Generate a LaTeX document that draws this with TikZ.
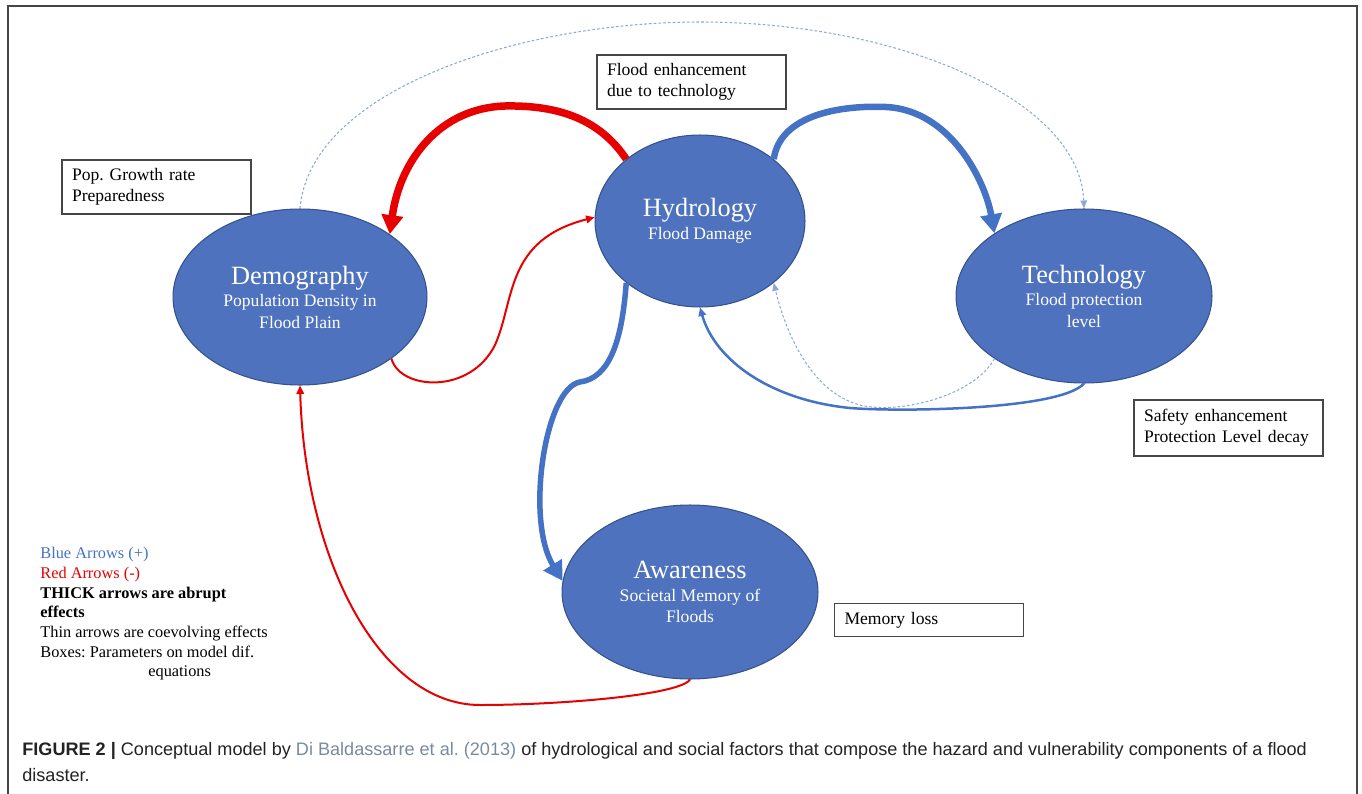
\documentclass[tikz,border=0pt]{standalone}
\usepackage{fontspec}
\setmainfont{Liberation Serif}
\newfontfamily\capfont{Liberation Sans}
\usetikzlibrary{arrows.meta,shapes.geometric}

\definecolor{ellfill}{RGB}{79,114,190}
\definecolor{elledge}{RGB}{52,82,140}
\definecolor{plusblue}{RGB}{68,114,196}
\definecolor{minusred}{RGB}{230,0,0}
\definecolor{faintblue}{RGB}{140,168,218}
\definecolor{boxgrey}{RGB}{70,70,70}
\definecolor{linkgrey}{RGB}{120,138,162}
\definecolor{captext}{RGB}{35,35,35}

\newcommand{\elltitle}{\fontsize{15}{17}\selectfont}
\newcommand{\ellsub}{\fontsize{10}{13.4}\selectfont}
\newcommand{\boxtext}{\fontsize{10}{12}\selectfont}
\newcommand{\legendtext}{\fontsize{9.3}{11.2}\selectfont}

\begin{document}
\frenchspacing
\begin{tikzpicture}[x=0.02cm, y=-0.02cm,
    bubble/.style={ellipse, draw=elledge, line width=0.6pt, fill=ellfill, text=white, align=center, inner sep=0pt},
    parambox/.style={rectangle, draw=boxgrey, line width=0.7pt, fill=white, align=left, inner xsep=0.2cm, text width=3.38cm, font=\boxtext},
    abrupt/.style={line width=0.13cm, -{Triangle[length=0.38cm, width=0.42cm]}},
    coevolve/.style={line width=0.04cm, -{Triangle[length=0.17cm, width=0.15cm]}},
    weaklink/.style={faintblue, line width=0.6pt, dash pattern=on 1.5pt off 1.2pt, -{Triangle[length=0.16cm, width=0.13cm]}}]
    \useasboundingbox (0,0) rectangle (1362,794);
    % Draw the frame, open at the bottom
    \draw[boxgrey, line width=0.9pt] (8,794) -- (8,6) -- (1357,6) -- (1357,794);
    % Draw the four model components
    \node[bubble, minimum width=5.08cm, minimum height=3.52cm] (demo) at (300,297) {\elltitle Demography\\[1pt] \ellsub Population Density in\\ Flood Plain};
    \node[bubble, minimum width=4.2cm, minimum height=3.44cm] (hyd) at (700,221) {\elltitle Hydrology\\[1pt] \ellsub Flood Damage};
    \node[bubble, minimum width=5.12cm, minimum height=3.48cm] (tech) at (1084,296) {\elltitle Technology\\[1pt] \ellsub Flood protection\\ level};
    \node[bubble, minimum width=5.12cm, minimum height=3.48cm] (aware) at (690,592) {\elltitle Awareness\\[1pt] \ellsub Societal Memory of\\ Floods};
    % Draw the parameter boxes
    \node[parambox, minimum height=1.08cm] (popbox) at (156.5,187) {Pop. Growth rate\\ Preparedness};
    \node[parambox, minimum height=1.08cm] (enhbox) at (691.5,82) {Flood enhancement\\ due to technology};
    \node[parambox, minimum height=1.12cm] (safebox) at (1228.5,428) {Safety enhancement\\ Protection Level decay};
    \node[parambox, minimum height=0.66cm] (membox) at (929,620) {Memory loss};
    % Thick arrows (abrupt effects)
    \draw[abrupt, minusred, line width=0.15cm] (hyd.140) .. controls (600,120) and (560,105) .. (505,106) .. controls (440,108) and (400,160) .. (demo.35);
    \draw[abrupt, plusblue] (hyd.40) .. controls (780,115) and (840,105) .. (886,107) .. controls (950,110) and (985,180) .. (tech.145);
    \draw[abrupt, plusblue, line width=0.11cm] (hyd.220) .. controls (622,340) and (610,378) .. (580,382) .. controls (545,388) and (525,520) .. (aware.175);
    % Thin arrows (coevolving effects)
    \draw[coevolve, minusred] (demo.-34) .. controls (400,390) and (470,395) .. (495,345) .. controls (515,300) and (505,240) .. (hyd.178);
    \draw[coevolve, plusblue, line width=0.05cm] (tech.270) .. controls (1060,410) and (900,412) .. (850,408) .. controls (770,400) and (715,360) .. (hyd.270);
    \draw[coevolve, minusred] (aware.270) .. controls (680,695) and (560,705) .. (480,705) .. controls (380,705) and (305,560) .. (demo.270);
    % Dashed light arrows
    \draw[weaklink] (tech.215) .. controls (975,395) and (900,415) .. (860,405) .. controls (810,392) and (785,330) .. (hyd.-40);
    \draw[weaklink] (demo.90) .. controls (310,90) and (520,22) .. (700,22) .. controls (900,22) and (1080,100) .. (tech.90);
    % Legend
    \node[anchor=north west, inner sep=0pt, align=left, font=\legendtext] (legend) at (40,547) {\textcolor{plusblue}{Blue Arrows (+)}\\ \textcolor{minusred}{Red Arrows (-)}\\ \textbf{THICK arrows are abrupt}\\ \textbf{effects}\\ Thin arrows are coevolving effects\\ Boxes: Parameters on model dif.\\ \hspace*{2.16cm}equations};
    % Caption
    \node[anchor=base west, inner sep=0pt, align=left, text=captext, font=\capfont\fontsize{10.3}{14.7}\selectfont] (caption) at (22,781) {\textbf{FIGURE 2 |} Conceptual model by \textcolor{linkgrey}{Di Baldassarre et al. (2013)} of hydrological and social factors that compose the hazard and vulnerability components of a flood\\ disaster.};
\end{tikzpicture}
\end{document}
